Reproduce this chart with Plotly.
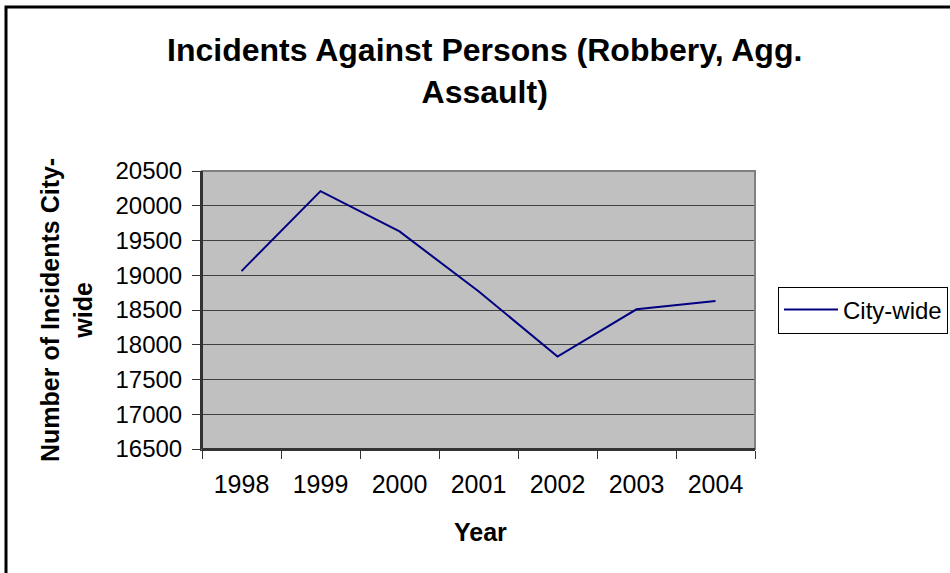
import plotly.graph_objects as go

years = ["1998", "1999", "2000", "2001", "2002", "2003", "2004"]
incidents = [19060, 20210, 19630, 18770, 17830, 18510, 18630]
y_ticks = [16500, 17000, 17500, 18000, 18500, 19000, 19500, 20000, 20500]
y_tick_labels = ["16500", "17000", "17500", "18000", "18500", "19000", "19500", "20000", "20500"]
series_name = "City-wide"
title_text = "<b>Incidents Against Persons (Robbery, Agg.<br>Assault)</b>"
y_title = "<b>Number of Incidents City-<br>wide</b>"
x_title = "<b>Year</b>"

W, H = 950, 573
L, R, T, B = 202, 755, 171, 449
pw, ph = R - L, B - T

def px(x):
    return (x - L) / pw

def py(y):
    return (B - y) / ph

FONT = "Liberation Sans, Arial, sans-serif"

fig = go.Figure()
fig.add_trace(go.Scatter(
    x=years, y=incidents, mode="lines", name=series_name,
    line=dict(color="#000080", width=2),
))

fig.update_layout(
    width=W, height=H,
    margin=dict(l=L, r=W - R, t=T, b=H - B, pad=0, autoexpand=False),
    paper_bgcolor="white",
    plot_bgcolor="#C0C0C0",
    font=dict(family=FONT, color="black"),
    showlegend=True,
    legend=dict(
        x=px(778), y=0.5, xanchor="left", yanchor="middle",
        bordercolor="black", borderwidth=1, bgcolor="white",
        font=dict(size=24, family=FONT, color="black"),
        itemwidth=54, tracegroupgap=0,
    ),
    xaxis=dict(
        type="category", range=[-0.5, 6.5],
        showgrid=False, zeroline=False,
        showline=True, linecolor="#333333", linewidth=2,
        ticks="outside", ticklen=8, tickcolor="#333333", tickwidth=1,
        tickson="boundaries", ticklabelstandoff=12,
        tickfont=dict(size=25, family=FONT, color="black"),
    ),
    yaxis=dict(
        range=[16500, 20500], tickvals=y_ticks, ticktext=y_tick_labels,
        showgrid=True, gridcolor="#404040", gridwidth=1,
        zeroline=False,
        showline=True, linecolor="#333333", linewidth=2,
        ticks="outside", ticklen=8, tickcolor="#333333", tickwidth=1,
        ticklabelstandoff=5,
        tickfont=dict(size=24, family=FONT, color="black"),
    ),
    shapes=[
        dict(type="rect", xref="paper", yref="paper", x0=0, x1=1, y0=0, y1=1,
             line=dict(color="#808080", width=2), layer="above"),
        dict(type="line", xref="paper", yref="paper", x0=0, x1=0, y0=0, y1=1,
             line=dict(color="#333333", width=2), layer="above"),
        dict(type="line", xref="paper", yref="paper", x0=0, x1=1, y0=0, y1=0,
             line=dict(color="#333333", width=2), layer="above"),
        dict(type="rect", xref="paper", yref="paper",
             x0=px(6), x1=px(1100), y0=py(700), y1=py(7),
             line=dict(color="black", width=3)),
    ],
    annotations=[
        dict(text=title_text, xref="paper", yref="paper", x=px(484), y=py(71),
             xanchor="center", yanchor="middle", showarrow=False,
             font=dict(size=32, family=FONT, color="black")),
        dict(text=y_title, xref="paper", yref="paper", x=px(66), y=0.5,
             xanchor="center", yanchor="middle", showarrow=False, textangle=-90,
             font=dict(size=25, family=FONT, color="black")),
        dict(text=x_title, xref="paper", yref="paper", x=px(480), y=py(532),
             xanchor="center", yanchor="middle", showarrow=False,
             font=dict(size=25, family=FONT, color="black")),
    ],
)

fig.write_html("out.html")
